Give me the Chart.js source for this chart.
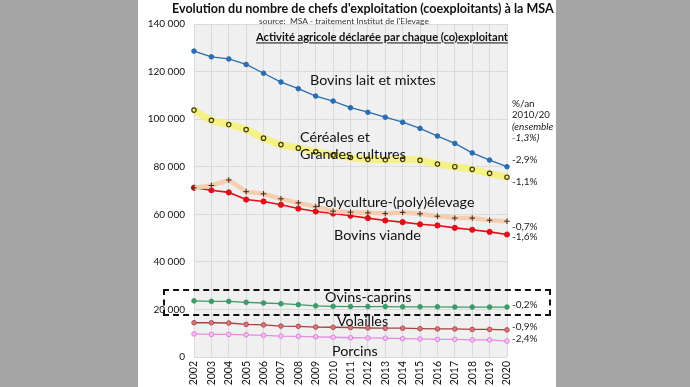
<!DOCTYPE html>
<html>
<head>
<meta charset="utf-8">
<script src="https://cdn.jsdelivr.net/npm/chart.js@4"></script>
<style>
  html, body { margin: 0; padding: 0; }
  body {
    width: 690px; height: 387px; position: relative; overflow: hidden;
    background: #a6a6a6; font-family: Lato, "Open Sans", sans-serif; color: #111;
  }
  #panel { position: absolute; left: 138px; top: 0; width: 418px; height: 387px; background: #fff; }
  #chart { position: absolute; left: 0; top: 0; }
  .lbl { position: absolute; white-space: nowrap; line-height: 1; transform: translateY(-50%); }
  .serie { font-size: 14.3px; color: #111; }
  .pct { font-size: 10px; color: #222; }
  #box {
    position: absolute; left: 163px; top: 289px; width: 384px; height: 23px;
    border: 2px dashed #111;
  }
</style>
</head>
<body>
<div id="panel"></div>
<canvas id="chart" width="690" height="387"></canvas>
<div id="box"></div>

<div class="lbl" style="left:172px;top:9px;font-size:14px;font-weight:bold;" data-w="382">Evolution du nombre de chefs d'exploitation (coexploitants) à la MSA</div>
<div class="lbl" style="left:259px;top:21px;font-size:10px;color:#333;" data-w="170">source:&nbsp; MSA - traitement Institut de l'Elevage</div>
<div class="lbl" style="left:256px;top:37px;font-size:12px;font-weight:bold;text-decoration:underline;" data-w="252">Activité agricole déclarée par chaque (co)exploitant</div>

<div class="lbl serie" style="left:310px;top:80px;">Bovins lait et mixtes</div>
<div class="lbl serie" style="left:300px;top:137px;">Céréales et</div>
<div class="lbl serie" style="left:300px;top:154px;">Grandes cultures</div>
<div class="lbl serie" style="left:317px;top:202px;">Polyculture-(poly)élevage</div>
<div class="lbl serie" style="left:334px;top:235px;">Bovins viande</div>
<div class="lbl serie" style="left:325px;top:297px;">Ovins-caprins</div>
<div class="lbl serie" style="left:337px;top:321px;">Volailles</div>
<div class="lbl serie" style="left:332px;top:351px;">Porcins</div>

<div class="lbl pct" style="left:512px;top:103px;">%/an</div>
<div class="lbl pct" style="left:512px;top:115px;" data-w="38">2010/20</div>
<div class="lbl pct" style="left:512px;top:126px;font-style:italic;">(ensemble</div>
<div class="lbl pct" style="left:512px;top:137px;font-style:italic;">-1,3%)</div>
<div class="lbl pct" style="left:512px;top:159px;">-2,9%</div>
<div class="lbl pct" style="left:512px;top:181px;">-1,1%</div>
<div class="lbl pct" style="left:512px;top:226px;">-0,7%</div>
<div class="lbl pct" style="left:512px;top:236px;">-1,6%</div>
<div class="lbl pct" style="left:512px;top:304px;">-0,2%</div>
<div class="lbl pct" style="left:512px;top:326px;">-0,9%</div>
<div class="lbl pct" style="left:512px;top:338px;">-2,4%</div>

<script>
const years = ["2002","2003","2004","2005","2006","2007","2008","2009","2010","2011",
               "2012","2013","2014","2015","2016","2017","2018","2019","2020"];

const bovinsLait   = [128600,126200,125300,123000,119300,115600,112800,109700,107600,104800,102900,100800,98700,96100,92900,89800,85800,82800,80000];
const cereales     = [103800,99500,97700,95600,92000,89300,87800,86300,84900,83900,83100,82900,83100,82700,81100,80000,78900,77200,75600];
const polyculture  = [71100,72100,74400,69500,68600,66500,64800,63200,61300,60900,60600,60300,60800,60200,59200,58400,58400,57500,57100];
const bovinsViande = [71200,70100,69200,66200,65400,64000,62400,61200,60300,59400,58400,57400,56700,55800,55300,54300,53500,52600,51500];
const ovinsCaprins = [23600,23400,23400,23000,22700,22400,22000,21500,21300,21200,21200,21200,21100,21100,21100,21000,21000,21000,21000];
const volailles    = [14400,14400,14300,13700,13500,13000,12900,12600,12500,12400,12200,12100,12100,11900,11800,11800,11600,11600,11400];
const porcins      = [9700,9500,9500,9300,9100,8800,8700,8500,8300,8100,8000,7900,7700,7600,7400,7400,7200,7200,6700];

// shrink/grow the header texts to the width they take in the original
document.querySelectorAll(".lbl[data-w]").forEach((el) => {
  const w = el.getBoundingClientRect().width;
  const fs = parseFloat(getComputedStyle(el).fontSize);
  el.style.fontSize = (fs * el.dataset.w / w).toFixed(2) + "px";
});

const plotBg = {
  id: "plotBg",
  beforeDraw(chart) {
    const { ctx, chartArea: a } = chart;
    ctx.save();
    ctx.fillStyle = "#f0f0f0";
    ctx.fillRect(a.left, a.top, a.right - a.left, a.bottom - a.top);
    ctx.restore();
  },
};

const thousands = (v) => String(v).replace(/\B(?=(\d{3})+(?!\d))/g, " ");

new Chart(document.getElementById("chart"), {
  type: "line",
  data: {
    labels: years,
    datasets: [
      {
        data: bovinsLait, borderColor: "#2a6db0", borderWidth: 1.3,
        pointRadius: 2.3, pointBorderWidth: 1, pointBackgroundColor: "#2a6db0", pointBorderColor: "#2a6db0",
      },
      {
        data: cereales, borderColor: "rgba(245,240,125,0.95)", borderWidth: 7,
        cubicInterpolationMode: "monotone",
        pointRadius: 2.2, pointBorderWidth: 1.2, pointBackgroundColor: "#f4ee7a", pointBorderColor: "#3d3a10",
      },
      {
        data: polyculture, borderColor: "#f6cdb0", borderWidth: 4.5,
        pointStyle: "cross", pointRadius: 2.8, pointBorderWidth: 1, pointBorderColor: "#3a2616",
      },
      {
        data: bovinsViande, borderColor: "#e0101a", borderWidth: 1.6,
        pointRadius: 2.6, pointBorderWidth: 1, pointBackgroundColor: "#e0101a", pointBorderColor: "#e0101a",
      },
      {
        data: ovinsCaprins, borderColor: "#3f9a6b", borderWidth: 1.3,
        pointRadius: 2.3, pointBorderWidth: 1, pointBackgroundColor: "#3f9a6b", pointBorderColor: "#3f9a6b",
      },
      {
        data: volailles, borderColor: "#a0453a", borderWidth: 1.3,
        pointRadius: 2.3, pointBorderWidth: 1, pointBackgroundColor: "#d8747c", pointBorderColor: "#b24e55",
      },
      {
        data: porcins, borderColor: "#e58be0", borderWidth: 1.3,
        pointRadius: 2.3, pointBorderWidth: 1, pointBackgroundColor: "#f5c2f1", pointBorderColor: "#e07ee0",
      },
    ],
  },
  options: {
    responsive: false,
    animation: false,
    layout: { padding: { left: 0, right: 183, top: 24, bottom: 0 } },
    plugins: { legend: { display: false }, tooltip: { enabled: false } },
    scales: {
      x: {
        offset: false,
        grid: { color: "#dadada", drawTicks: false },
        border: { display: false },
        ticks: {
          minRotation: 90, maxRotation: 90, padding: 4,
          color: "#111", font: { family: "Lato", size: 10.5 },
        },
        afterFit(s) { s.height = 30; },
      },
      y: {
        min: 0, max: 140000,
        grid: { color: "#dadada", drawTicks: false },
        border: { display: false },
        ticks: {
          stepSize: 20000, padding: 9, callback: thousands,
          color: "#111", font: { family: "Lato", size: 10 },
        },
        afterFit(s) { s.width = 194; },
      },
    },
  },
  plugins: [plotBg],
});
</script>
</body>
</html>
